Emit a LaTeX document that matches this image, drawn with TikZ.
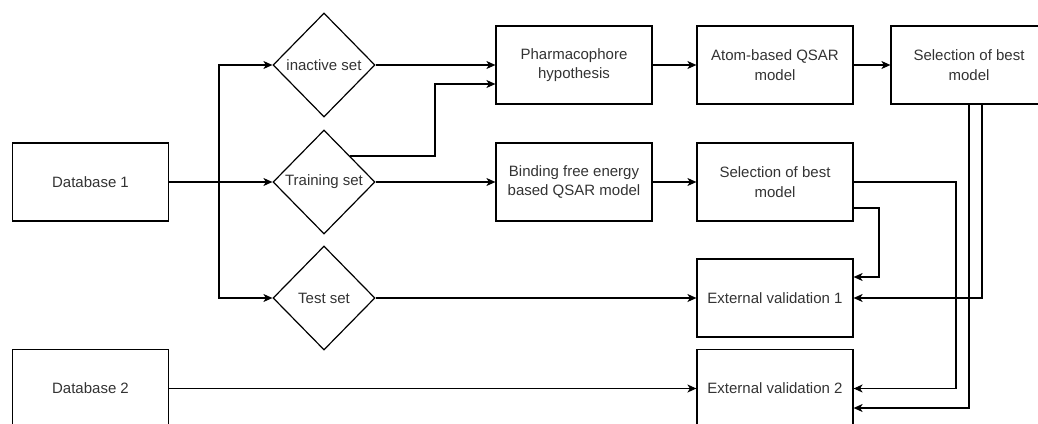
\documentclass[tikz,border=0pt]{standalone}
\usepackage{fontspec}
\setmainfont{Liberation Sans}
\usetikzlibrary{shapes.geometric,arrows.meta}
\definecolor{txt}{HTML}{333333}
\begin{document}
\begin{tikzpicture}[x=1pt,y=-1pt,
  font=\fontsize{15}{19.5}\selectfont,
  box/.style={draw,line width=1.2pt,minimum width=156pt,minimum height=78pt,inner sep=0pt,align=center,text=txt},
  dia/.style={draw,shape=diamond,line width=1.2pt,minimum width=102pt,minimum height=104pt,inner sep=0pt,text=txt},
  arr/.style={line width=1.2pt,-{Stealth[length=9pt,width=8pt,inset=2.5pt]}},
  ln/.style={line width=1.2pt}]
\clip (0,0) rectangle (1038,423);
\useasboundingbox (0,0) rectangle (1038,423);
% nodes
\node[box] (db1) at (90.5,182) {Database 1};
\node[box] (db2) at (90.5,388.5) {Database 2};
\node[dia] (inactive) at (324,65) {\makebox[0pt]{inactive set}};
\node[dia] (train) at (324,182) {\makebox[0pt]{Training set}};
\node[dia] (test) at (324,298) {\makebox[0pt]{Test set}};
\node[box] (pharm) at (574,65) {Pharmacophore\\hypothesis};
\node[box] (atom) at (775,65) {Atom-based QSAR\\model};
\node[box] (selA) at (969,65) {Selection of best\\model};
\node[box] (bind) at (574,182) {Binding free energy\\based QSAR model};
\node[box] (selB) at (775,182) {Selection of best\\model};
\node[box] (ext1) at (775,298) {External validation 1};
\node[box] (ext2) at (775,388.5) {External validation 2};
\coordinate (split) at (219,182);
\coordinate (tr) at (349.5,156);
% connectors
\draw[arr] (db1) -- (train);
\draw[arr] (split) |- (inactive);
\draw[arr] (split) |- (test);
\draw[arr] (inactive) -- (pharm);
\draw[arr] (tr) -- (435,156) |- ([yshift=-19pt]pharm.west);
\draw[arr] (train) -- (bind);
\draw[arr] (bind) -- (selB);
\draw[arr] (pharm) -- (atom);
\draw[arr] (atom) -- (selA);
\draw[arr] (test) -- (ext1);
\draw[arr] (db2) -- (ext2);
\draw[arr] (selB.east) -- (956,182) |- (ext2.east);
\draw[arr] ([yshift=-26pt]selB.east) -- (879,208) |- ([yshift=21pt]ext1.east);
\draw[arr] (selA.south) -- (969,408) -- ([yshift=-19.5pt]ext2.east);
\draw[arr] ([xshift=13pt]selA.south) |- (ext1.east);
\end{tikzpicture}
\end{document}
